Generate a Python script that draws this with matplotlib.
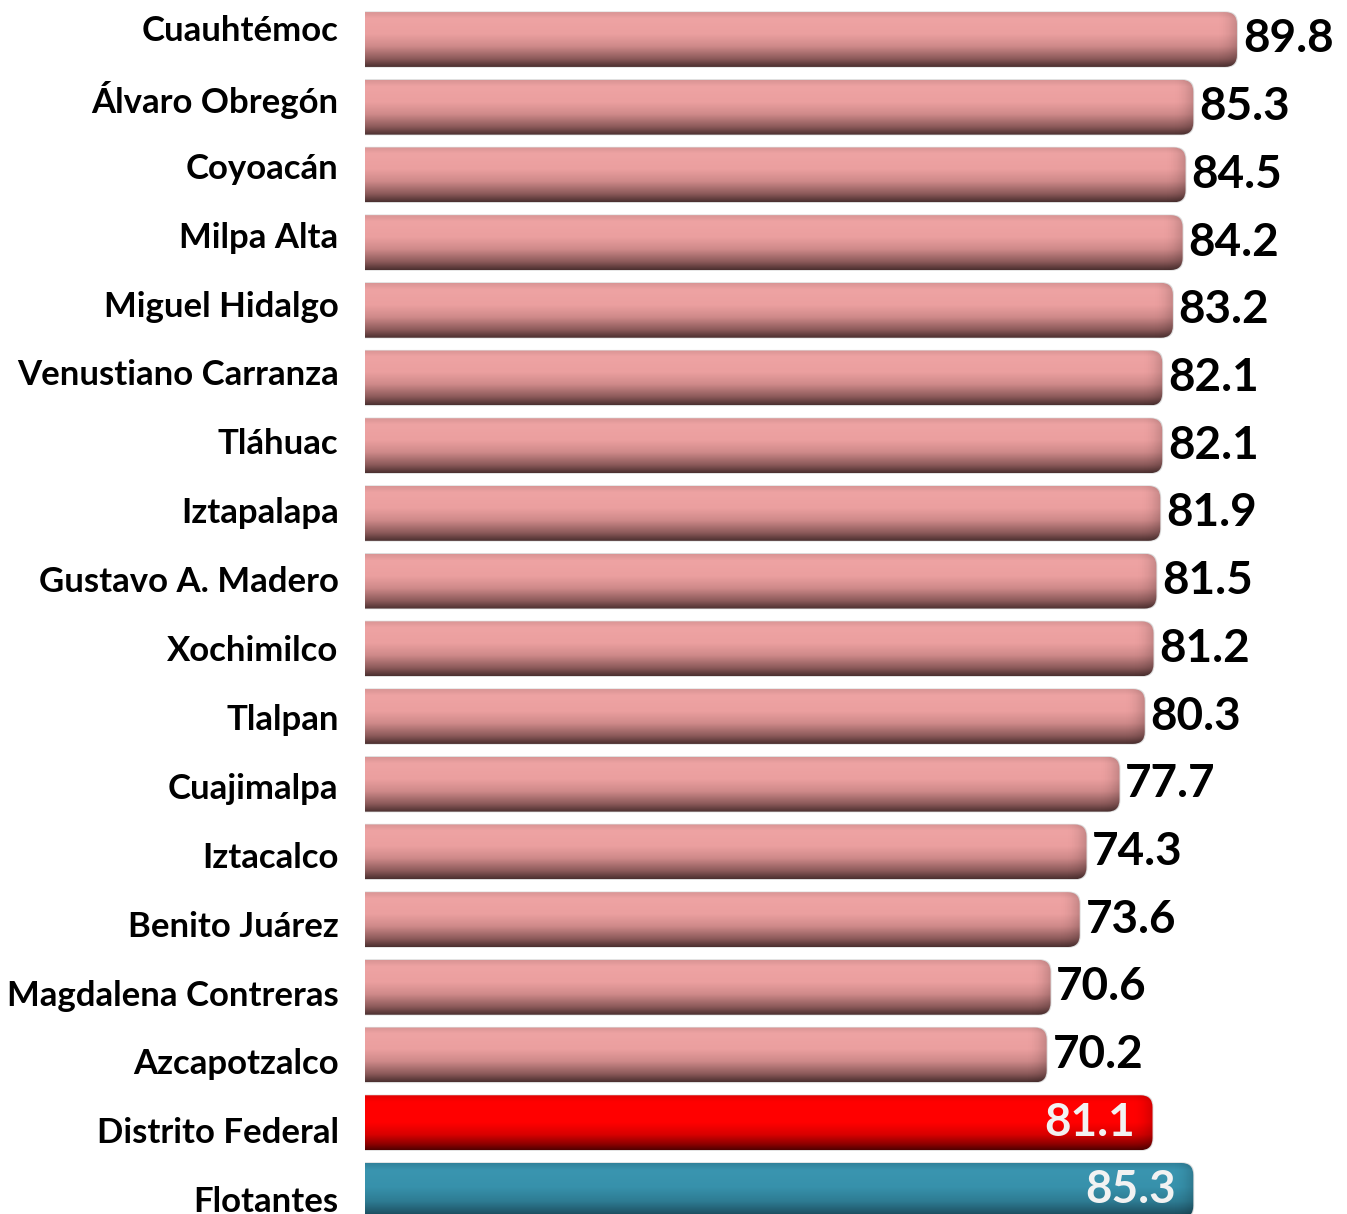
import numpy as np
import matplotlib
matplotlib.use("Agg")
import matplotlib.pyplot as plt
from matplotlib.patches import FancyBboxPatch
from matplotlib.colors import LinearSegmentedColormap

delegaciones = ["Cuauhtémoc", "Álvaro Obregón", "Coyoacán", "Milpa Alta",
                "Miguel Hidalgo", "Venustiano Carranza", "Tláhuac", "Iztapalapa",
                "Gustavo A. Madero", "Xochimilco", "Tlalpan", "Cuajimalpa",
                "Iztacalco", "Benito Juárez", "Magdalena Contreras", "Azcapotzalco",
                "Distrito Federal", "Flotantes"]
valores = [89.8, 85.3, 84.5, 84.2, 83.2, 82.1, 82.1, 81.9, 81.5, 81.2,
           80.3, 77.7, 74.3, 73.6, 70.6, 70.2, 81.1, 85.3]
grupo = ["del"] * 16 + ["df", "flot"]

# vertical gradients (top -> bottom) for each kind of bar
gradientes = {
    "del": [(0.0, "#d99494"), (0.12, "#eea3a3"), (0.40, "#eb9f9f"),
            (0.62, "#cf8a8a"), (0.85, "#8c5a5a"), (1.0, "#4a2f2f")],
    "df": [(0.0, "#e00000"), (0.12, "#ff0000"), (0.50, "#ff0000"),
           (0.72, "#d80000"), (0.90, "#8a0000"), (1.0, "#500000")],
    "flot": [(0.0, "#2f7f98"), (0.15, "#3a95b0"), (0.45, "#3791ab"),
             (0.70, "#2e7c93"), (0.90, "#20576a"), (1.0, "#163c49")],
}

W, H = 1347, 1214
fig = plt.figure(figsize=(W / 100, H / 100), dpi=100)
x0 = 365
ax = fig.add_axes([x0 / W, 0, 1 - x0 / W, 1])

px_x = 9.71    # pixels per unit on x
pitch = 67.7   # pixels per bar slot
y0 = 39.5      # centre of first bar in pixels from the top
ax.set_xlim(0, (W - x0) / px_x)
ax.set_ylim((H - y0) / pitch, -y0 / pitch)

pos = np.arange(len(valores))
alto = 0.81
bars = ax.barh(pos, valores, height=alto, color="none", edgecolor="none")

radio = 12 / px_x
aspecto = (1 / pitch) / (1 / px_x)
grad = np.linspace(0, 1, 256).reshape(-1, 1)

for b, g, v in zip(bars, grupo, valores):
    y = b.get_y()
    h = b.get_height()
    # soft shadow
    sombra = FancyBboxPatch((-5, y - 0.01), v + 5 + 0.1, h + 0.02,
                            boxstyle=f"round,pad=0,rounding_size={radio}",
                            mutation_aspect=aspecto, facecolor="#bbbbbb",
                            edgecolor="none", alpha=0.5, zorder=1)
    ax.add_patch(sombra)
    forma = FancyBboxPatch((-5, y), v + 5, h,
                           boxstyle=f"round,pad=0,rounding_size={radio}",
                           mutation_aspect=aspecto, facecolor="none",
                           edgecolor="none", zorder=2)
    ax.add_patch(forma)
    cmap = LinearSegmentedColormap.from_list(g, gradientes[g])
    img = ax.imshow(grad, cmap=cmap, aspect="auto", origin="upper",
                    extent=(0, v, y + h, y), zorder=2, interpolation="bilinear")
    img.set_clip_path(forma)
    # darker shading on the rounded end
    fin = np.linspace(0, 1, 64).reshape(1, -1) ** 2
    sh = ax.imshow(np.dstack([np.zeros_like(fin)] * 3 + [fin * 0.18]),
                   aspect="auto", extent=(v - 2.2, v, y + h, y), zorder=3,
                   interpolation="bilinear")
    sh.set_clip_path(forma)

fuente = "Lato"
for i, (v, g) in enumerate(zip(valores, grupo)):
    if g == "del":
        ax.text(v + 0.6, i, f"{v:.1f}", ha="left", va="center",
                fontsize=33, fontweight="bold", family=fuente, color="black",
                zorder=5)
    else:
        ax.text(v - 1.8, i, f"{v:.1f}", ha="right", va="center",
                fontsize=33, fontweight="bold", family=fuente, color="#f2f2f2",
                zorder=5)

# category labels sit on a slightly wider pitch than the bars
ax.set_yticks(pos * (68.9 / pitch) - 0.17)
ax.set_yticklabels(delegaciones, fontsize=25, fontweight="bold", family=fuente)
ax.tick_params(axis="y", length=0, pad=19)
ax.set_xticks([])
for s in ax.spines.values():
    s.set_visible(False)
ax.patch.set_alpha(0)

fig.savefig("out.png", dpi=100)
